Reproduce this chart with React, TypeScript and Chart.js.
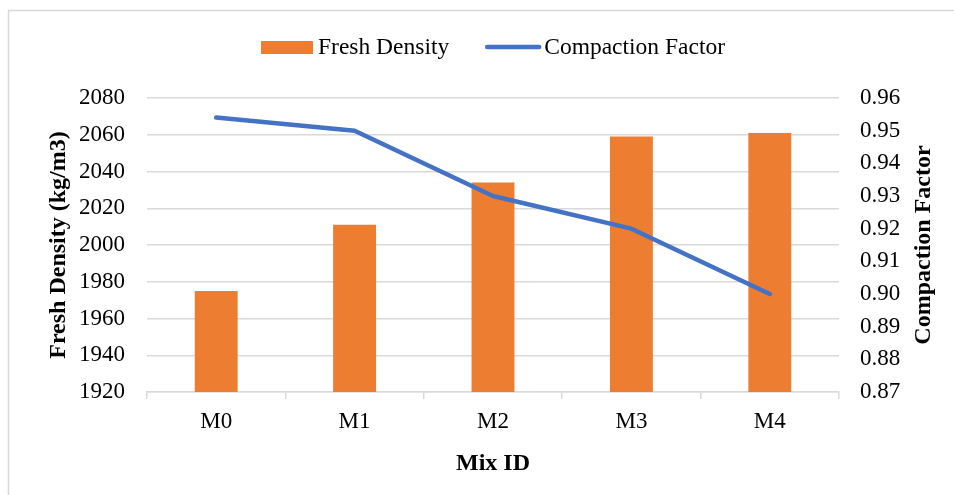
import React, { useEffect, useRef } from "react";
import { Chart, registerables } from "chart.js";

Chart.register(...registerables);

const categories = ["M0", "M1", "M2", "M3", "M4"];
const freshDensity = [1975, 2011, 2034, 2059, 2061];
const compactionFactor = [0.954, 0.95, 0.93, 0.92, 0.9];
const leftTicks = { min: 1920, max: 2080, step: 20 };
const rightTicks = { min: 0.87, max: 0.96, step: 0.01 };

const FONT = "'Liberation Serif', 'Times New Roman', serif";
const ORANGE = "#ED7D31";
const BLUE = "#4472C4";
const GRID = "#d9d9d9";

const decorPlugin = {
  id: "decor",
  beforeDraw(chart: any) {
    const { ctx, width, height } = chart;
    ctx.save();
    ctx.fillStyle = "#fff";
    ctx.fillRect(0, 0, width, height);
    ctx.strokeStyle = GRID;
    ctx.lineWidth = 1.5;
    ctx.beginPath();
    ctx.moveTo(8.5, height + 5);
    ctx.lineTo(8.5, 10.5);
    ctx.lineTo(width + 5, 10.5);
    ctx.stroke();
    ctx.restore();
  },
  afterDraw(chart: any) {
    const { ctx, chartArea } = chart;
    ctx.save();
    // legend
    ctx.font = `23.5px ${FONT}`;
    ctx.textBaseline = "middle";
    ctx.fillStyle = "#000";
    const ds = chart.data.datasets;
    const barLabel = ds[1].label;
    const lineLabel = ds[0].label;
    const w1 = ctx.measureText(barLabel).width;
    const w2 = ctx.measureText(lineLabel).width;
    const boxW = 52, gap1 = 5, between = 36, lineW = 56, gap2 = 3;
    const total = boxW + gap1 + w1 + between + lineW + gap2 + w2;
    let x = (chartArea.left + chartArea.right) / 2 - total / 2;
    const cy = 47.5;
    ctx.fillStyle = ORANGE;
    ctx.fillRect(x, cy - 6.5, boxW, 13);
    x += boxW + gap1;
    ctx.fillStyle = "#000";
    ctx.fillText(barLabel, x, cy);
    x += w1 + between;
    ctx.strokeStyle = BLUE;
    ctx.lineWidth = 4.5;
    ctx.lineCap = "round";
    ctx.beginPath();
    ctx.moveTo(x + 2, cy - 0.5);
    ctx.lineTo(x + lineW - 2, cy - 0.5);
    ctx.stroke();
    x += lineW + gap2;
    ctx.fillText(lineLabel, x, cy);
    // right axis title
    ctx.font = `bold 24px ${FONT}`;
    ctx.textAlign = "center";
    ctx.translate(924, (chartArea.top + chartArea.bottom) / 2);
    ctx.rotate(-Math.PI / 2);
    ctx.fillText("Compaction Factor", 0, 0);
    ctx.restore();
  },
};

export default function App() {
  const ref = useRef<HTMLCanvasElement>(null);
  useEffect(() => {
    if (!ref.current) return;
    const chart = new Chart(ref.current, {
      type: "bar",
      data: {
        labels: categories,
        datasets: [
          {
            type: "line",
            label: "Compaction Factor",
            data: compactionFactor,
            borderColor: BLUE,
            backgroundColor: BLUE,
            borderWidth: 4.5,
            pointRadius: 0,
            tension: 0,
            borderCapStyle: "round",
            borderJoinStyle: "round",
            yAxisID: "y1",
            order: 0,
          } as any,
          {
            type: "bar",
            label: "Fresh Density",
            data: freshDensity,
            backgroundColor: ORANGE,
            categoryPercentage: 1,
            barPercentage: 0.31,
            yAxisID: "y",
            order: 1,
          },
        ],
      },
      options: {
        responsive: false,
        animation: false,
        layout: { padding: { top: 98, left: 0, right: 0, bottom: 0 } },
        plugins: {
          legend: { display: false },
          tooltip: { enabled: false },
        },
        scales: {
          x: {
            grid: {
              offset: true,
              drawOnChartArea: false,
              drawTicks: true,
              tickLength: 7,
              color: GRID,
              lineWidth: 1.5,
            },
            border: { display: true, color: GRID, width: 1.5 },
            ticks: { font: { family: FONT, size: 23 }, color: "#000", padding: 9 },
            title: {
              display: true,
              text: "Mix ID",
              font: { family: FONT, size: 24, weight: "bold" },
              color: "#000",
              padding: { top: 0, bottom: 17 },
            },
            afterFit: (s: any) => {
              s.height = 103;
            },
          },
          y: {
            position: "left",
            min: leftTicks.min,
            max: leftTicks.max,
            ticks: {
              stepSize: leftTicks.step,
              font: { family: FONT, size: 23 },
              color: "#000",
              padding: 22,
              callback: (v: any) => String(Math.round(Number(v))),
            },
            grid: { color: GRID, lineWidth: 1.5, drawTicks: false },
            border: { display: false },
            title: {
              display: true,
              text: "Fresh Density (kg/m3)",
              font: { family: FONT, size: 24, weight: "bold" },
              color: "#000",
              padding: { top: 44, bottom: 0 },
            },
            afterFit: (s: any) => {
              s.width = 147;
            },
          },
          y1: {
            position: "right",
            min: rightTicks.min,
            max: rightTicks.max,
            ticks: {
              stepSize: rightTicks.step,
              font: { family: FONT, size: 23 },
              color: "#000",
              padding: 21,
              callback: (v: any) => Number(v).toFixed(2),
            },
            grid: { drawOnChartArea: false, drawTicks: false },
            border: { display: false },
            afterFit: (s: any) => {
              s.width = 115;
            },
          },
        },
      },
      plugins: [decorPlugin],
    });
    return () => chart.destroy();
  }, []);
  return (
    <div style={{ position: "fixed", left: 0, top: 0, width: 954, height: 495, background: "#fff" }}>
      <canvas ref={ref} width={954} height={495} style={{ display: "block" }} />
    </div>
  );
}
